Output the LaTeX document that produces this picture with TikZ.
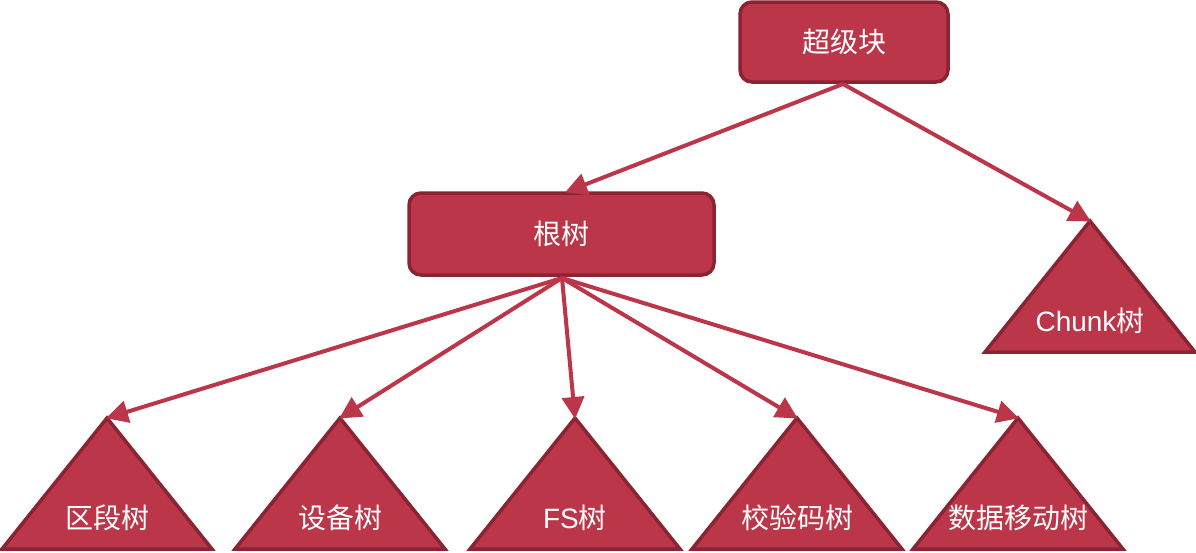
\documentclass[tikz,border=0pt]{standalone}
\usepackage{fontspec}
\setmainfont{Liberation Sans}
\newfontfamily\cjk{Noto Sans CJK SC}
\usetikzlibrary{arrows.meta}
\definecolor{boxfill}{HTML}{BC3649}
\definecolor{boxline}{HTML}{8A2433}
\definecolor{arrowc}{HTML}{BC3649}
\tikzset{
  rbox/.style={draw=boxline, fill=boxfill, line width=3.5pt, rounded corners=12pt, text=white, font=\fontsize{28}{32}\selectfont, inner sep=0pt},
  tri/.style={draw=boxline, fill=boxfill, line width=3.5pt, line join=miter},
  lbl/.style={text=white, font=\fontsize{28}{32}\selectfont, inner sep=0pt},
  conn/.style={draw=arrowc, line width=4pt, -{Triangle[length=22pt,width=22pt]}, shorten >=-1pt},
}
\begin{document}
\begin{tikzpicture}[x=1pt,y=-1pt]
\useasboundingbox (0,0) rectangle (1196,552);
% boxes
\node[rbox, minimum width=208pt, minimum height=80pt] (sb) at (844,42) {\cjk 超级块};
\node[rbox, minimum width=305pt, minimum height=82pt] (root) at (561.5,234) {\cjk 根树};
% triangles
\coordinate (chunk) at (1090,221);
\draw[tri] (chunk) -- ++(-105,131) -- ++(210,0) -- cycle;
\node[lbl] (chunkl) at (1090,321) {Chunk{\cjk 树}};
\coordinate (t1) at (107,418);
\draw[tri] (t1) -- ++(-105,131) -- ++(210,0) -- cycle;
\node[lbl] (t1l) at (107,518) {\cjk 区段树};
\coordinate (t2) at (340,418);
\draw[tri] (t2) -- ++(-105,131) -- ++(210,0) -- cycle;
\node[lbl] (t2l) at (340,518) {\cjk 设备树};
\coordinate (t3) at (575,418);
\draw[tri] (t3) -- ++(-105,131) -- ++(210,0) -- cycle;
\node[lbl] (t3l) at (575,518) {FS{\cjk 树}};
\coordinate (t4) at (797,418);
\draw[tri] (t4) -- ++(-105,131) -- ++(210,0) -- cycle;
\node[lbl] (t4l) at (797,518) {\cjk 校验码树};
\coordinate (t5) at (1018,418);
\draw[tri] (t5) -- ++(-105,131) -- ++(210,0) -- cycle;
\node[lbl] (t5l) at (1018,518) {\cjk 数据移动树};
% connectors
\coordinate (sbb) at (843,84);
\coordinate (roott) at (566,192);
\coordinate (rootb) at (562,278);
\draw[conn] (sbb) -- (roott);
\draw[conn] (sbb) -- (chunk);
\draw[conn] (rootb) -- (t1);
\draw[conn] (rootb) -- (t2);
\draw[conn] (rootb) -- (t3);
\draw[conn] (rootb) -- (t4);
\draw[conn] (rootb) -- (t5);
\end{tikzpicture}
\end{document}
